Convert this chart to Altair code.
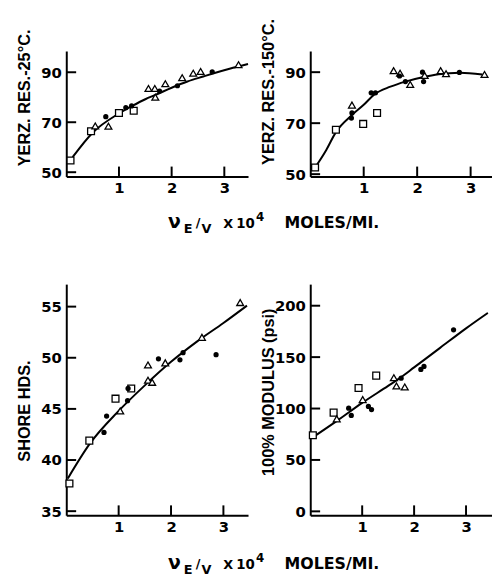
import altair as alt
import pandas as pd

NUM_FONT = "DejaVu Sans"
TITLE_FONT = "Liberation Sans"

# ---------- Panel A: Yerzley resilience, 25 C ----------
a_sq_x = [0.08, 0.47, 1.00, 1.28]
a_sq_y = [54.7, 66.4, 73.7, 74.6]
a_ci_x = [0.75, 1.13, 1.24, 1.77, 2.11, 2.77]
a_ci_y = [72.2, 75.8, 76.5, 82.5, 84.6, 90.2]
a_tr_x = [0.55, 0.80, 1.56, 1.68, 1.69, 1.88, 2.20, 2.41, 2.55, 3.27]
a_tr_y = [68.5, 68.4, 83.5, 83.5, 80.0, 85.4, 87.8, 89.6, 90.3, 93.0]
a_fit_x = [0.12, 0.5, 1.0, 1.25, 1.5, 1.7, 2.0, 2.3, 2.6, 2.8, 3.1, 3.45]
a_fit_y = [56.0, 65.8, 73.5, 76.5, 79.2, 81.0, 83.8, 86.3, 88.3, 89.6, 91.4, 93.3]

# ---------- Panel B: Yerzley resilience, 150 C ----------
b_sq_x = [0.09, 0.48, 0.99, 1.25]
b_sq_y = [52.6, 67.4, 69.7, 74.0]
b_ci_x = [0.77, 0.78, 1.14, 1.22, 1.67, 1.78, 2.10, 2.12, 2.79]
b_ci_y = [72.0, 74.0, 81.9, 81.9, 88.5, 86.3, 90.0, 86.3, 89.9]
b_tr_x = [0.78, 1.56, 1.68, 1.87, 2.14, 2.44, 2.54, 3.26]
b_tr_y = [77.1, 90.6, 89.6, 85.2, 88.7, 90.6, 89.4, 89.1]
b_fit_x = [0.12, 0.3, 0.48, 0.78, 1.0, 1.2, 1.5, 1.78, 2.1, 2.4, 2.8, 3.22]
b_fit_y = [53.5, 59.5, 66.5, 73.2, 77.2, 81.3, 84.3, 86.3, 88.0, 89.2, 89.8, 89.1]

# ---------- Panel C: Shore hardness ----------
c_sq_x = [0.06, 0.44, 0.94, 1.24]
c_sq_y = [37.7, 41.9, 46.0, 47.0]
c_ci_x = [0.72, 0.77, 1.17, 1.18, 1.76, 2.17, 2.23, 2.86]
c_ci_y = [42.7, 44.3, 45.8, 47.0, 49.9, 49.8, 50.5, 50.3]
c_tr_x = [1.03, 1.56, 1.56, 1.64, 1.89, 2.59, 3.32]
c_tr_y = [44.8, 49.3, 47.8, 47.6, 49.5, 52.0, 55.4]
c_fit_x = [0.03, 0.45, 1.0, 1.5, 2.0, 2.5, 3.0, 3.45]
c_fit_y = [38.2, 41.6, 44.8, 47.3, 49.6, 51.6, 53.4, 55.1]

# ---------- Panel D: 100% modulus ----------
d_sq_x = [0.05, 0.45, 0.93, 1.27]
d_sq_y = [74, 96, 120, 132]
d_ci_x = [0.74, 0.79, 1.12, 1.18, 1.75, 2.13, 2.19, 2.76]
d_ci_y = [100.3, 93.3, 102, 99, 129.5, 138, 141, 176.6]
d_tr_x = [0.51, 1.01, 1.61, 1.66, 1.82]
d_tr_y = [90, 108.7, 130, 122, 121]
d_fit_x = [0.05, 0.5, 1.0, 1.5, 1.75, 2.0, 2.5, 3.0, 3.42]
d_fit_y = [72, 87.5, 105.5, 122, 130.5, 140, 159, 178, 193]

x_ticks = [1, 2, 3]
a_y_ticks = [50, 70, 90]
b_y_ticks = [50, 70, 90]
c_y_ticks = [35, 40, 45, 50, 55]
d_y_ticks = [0, 50, 100, 150, 200]

a_title = "YERZ. RES.-25°C."
b_title = "YERZ.  RES.-150°C."
c_title = "SHORE HDS."
d_title = "100% MODULUS (psi)"

# pieces of the shared x-axis caption
cap_nu, cap_e, cap_slash, cap_v, cap_x, cap_ten, cap_four, cap_units = (
    "ν", "E", "/", "V", "X", "10", "4", "MOLES/MI.")

W = 184
H_TOP = 127
H_BOT = 234


def df(xs, ys):
    return pd.DataFrame({"x": xs, "y": ys})


def caption(base_y):
    """Shared x caption drawn below a left-hand panel."""
    pieces = [
        (cap_nu, 103, base_y, 19),
        (cap_e, 119, base_y + 5, 13),
        (cap_slash, 131, base_y - 1, 13),
        (cap_v, 137, base_y + 5, 13),
        (cap_x, 159, base_y, 13),
        (cap_ten, 172, base_y, 13.5),
        (cap_four, 192, base_y - 7, 12),
        (cap_units, 221, base_y, 16),
    ]
    layers = []
    for txt, px, py, fs in pieces:
        layers.append(
            alt.Chart(pd.DataFrame({"t": [txt]}))
            .mark_text(align="left", baseline="alphabetic", font=NUM_FONT,
                       fontWeight="bold", fontSize=fs, color="black")
            .encode(x=alt.value(px), y=alt.value(py), text="t:N")
        )
    return layers


def panel(sq, ci, tr, fit, xdom, ydom, yticks, h, ytitle, title_y, cap_y=None):
    xs = alt.Scale(domain=xdom, nice=False, zero=False)
    ys = alt.Scale(domain=ydom, nice=False, zero=False)
    xax = alt.Axis(values=x_ticks, format="d", ticks=False, tickSize=0, grid=False,
                   domainColor="black", domainWidth=2, labelFont=NUM_FONT,
                   labelFontSize=15, labelFontWeight="bold", labelColor="black",
                   labelPadding=4, labelOverlap=False, title=None)
    yax = alt.Axis(values=yticks, format="d", ticks=False, tickSize=0, grid=False,
                   domainColor="black", domainWidth=2, labelFont=NUM_FONT,
                   labelFontSize=15, labelFontWeight="bold", labelColor="black",
                   labelPadding=5, labelOverlap=False, minExtent=30, maxExtent=30,
                   title=ytitle, titleFont=TITLE_FONT, titleFontSize=16.5,
                   titleFontWeight="bold", titleColor="black", titlePadding=4,
                   titleY=title_y)
    X = alt.X("x:Q", scale=xs, axis=xax)
    Y = alt.Y("y:Q", scale=ys, axis=yax)

    line = alt.Chart(df(*fit)).mark_line(
        color="black", strokeWidth=2, interpolate="monotone").encode(x=X, y=Y)
    squares = alt.Chart(df(*sq)).mark_point(
        shape="square", filled=True, fill="white", stroke="black",
        strokeWidth=1.3, size=48, opacity=1).encode(x=X, y=Y)
    tris = alt.Chart(df(*tr)).mark_point(
        shape="triangle-up", filled=True, fill="white", stroke="black",
        strokeWidth=1.3, size=48, opacity=1).encode(x=X, y=Y)
    circles = alt.Chart(df(*ci)).mark_circle(
        color="black", size=28, opacity=1).encode(x=X, y=Y)
    yt = alt.Chart(pd.DataFrame({"y": yticks})).mark_rule(
        color="black", strokeWidth=2).encode(y=Y, x=alt.value(0), x2=alt.value(10))
    xt = alt.Chart(pd.DataFrame({"x": x_ticks})).mark_rule(
        color="black", strokeWidth=2).encode(x=X, y=alt.value(h), y2=alt.value(h - 10))

    layers = [line, squares, tris, circles, yt, xt]
    if cap_y is not None:
        layers += caption(cap_y)
    return alt.layer(*layers).properties(width=W, height=h)


pA = panel((a_sq_x, a_sq_y), (a_ci_x, a_ci_y), (a_tr_x, a_tr_y), (a_fit_x, a_fit_y),
           [0, 3.45], [48.3, 98.5], a_y_ticks, H_TOP, a_title, 47, cap_y=179)
pB = panel((b_sq_x, b_sq_y), (b_ci_x, b_ci_y), (b_tr_x, b_tr_y), (b_fit_x, b_fit_y),
           [0, 3.4], [49.1, 98.3], b_y_ticks, H_TOP, b_title, 41)
pC = panel((c_sq_x, c_sq_y), (c_ci_x, c_ci_y), (c_tr_x, c_tr_y), (c_fit_x, c_fit_y),
           [0, 3.47], [34.6, 57.2], c_y_ticks, H_BOT, c_title, 128, cap_y=288)
pD = panel((d_sq_x, d_sq_y), (d_ci_x, d_ci_y), (d_tr_x, d_tr_y), (d_fit_x, d_fit_y),
           [0, 3.5], [-3.8, 221], d_y_ticks, H_BOT, d_title, 109)

chart = alt.concat(
    pA, pB, pC, pD, columns=2, spacing={"row": 109, "column": 63}, bounds="flush"
).configure_view(stroke=None).properties(
    padding={"left": 9, "top": 4, "right": 0, "bottom": 0}, background="white")

chart.save("out.html", embed_options={"renderer": "svg", "actions": False})
